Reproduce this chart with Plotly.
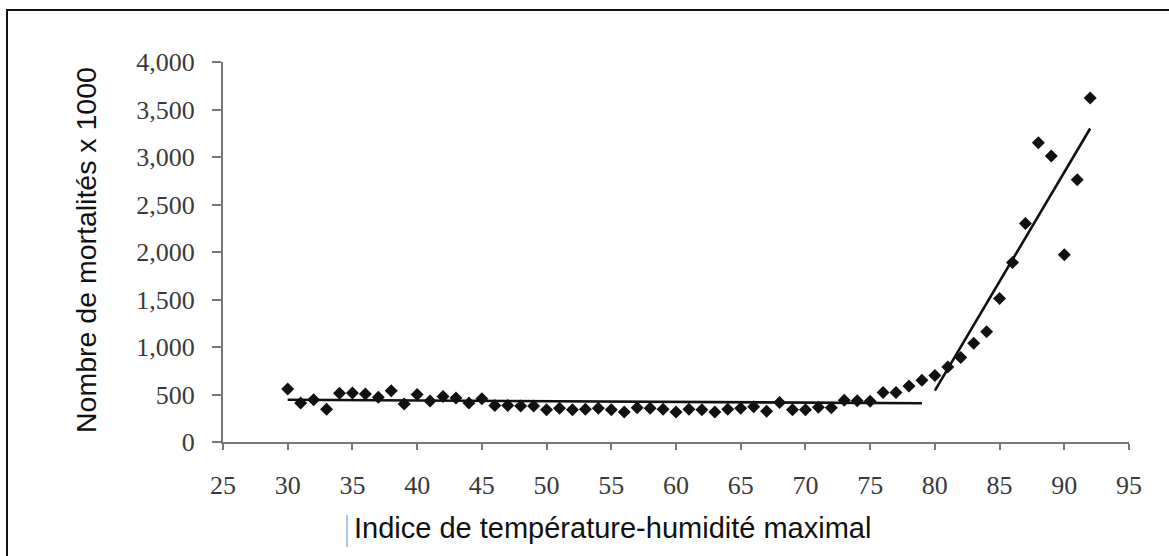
import plotly.graph_objects as go

# Maximum temperature-humidity index and deaths (x 1000)
thi = list(range(30, 93))
deaths = [
    558, 410, 445, 345, 512, 515, 505, 470, 540, 400,   # 30-39
    500, 432, 480, 462, 410, 455, 385, 385, 380, 380,   # 40-49
    340, 355, 340, 345, 355, 340, 315, 360, 355, 345,   # 50-59
    315, 345, 340, 315, 345, 355, 370, 325, 415, 340,   # 60-69
    340, 365, 360, 440, 435, 430, 520, 520, 590, 650,   # 70-79
    700, 790, 890, 1040, 1160, 1510, 1890, 2300, 3150, 3010,  # 80-89
    1970, 2760, 3620,                                   # 90-92
]

# Fitted trend lines (below and above the threshold)
fit_low_x = [30, 79]
fit_low_y = [445, 408]
fit_high_x = [80, 92]
fit_high_y = [540, 3300]

x_ticks = list(range(25, 100, 5))
y_ticks = list(range(0, 4500, 500))
y_tick_text = [f"{v:,}" for v in y_ticks]

W, H = 1169, 556
L, R, T, B = 223, 1129, 62, 442  # plot area in pixels


def px(x):
    return (x - L) / (R - L)


def py(y):
    return (B - y) / (B - T)


fig = go.Figure()

fig.add_trace(go.Scatter(
    x=fit_low_x, y=fit_low_y, mode="lines",
    line=dict(color="#111111", width=2.6), hoverinfo="skip", showlegend=False,
))
fig.add_trace(go.Scatter(
    x=fit_high_x, y=fit_high_y, mode="lines",
    line=dict(color="#111111", width=2.6), hoverinfo="skip", showlegend=False,
))
fig.add_trace(go.Scatter(
    x=thi, y=deaths, mode="markers",
    marker=dict(symbol="diamond", size=10, color="#111111", line=dict(width=0)),
    cliponaxis=False, showlegend=False,
))

axis_common = dict(
    showgrid=False, zeroline=False, showline=True,
    linecolor="#777777", linewidth=2,
    ticks="outside", tickcolor="#777777", tickwidth=2,
    tickfont=dict(family="Liberation Serif, Times New Roman, serif", size=26, color="#3a3a3a"),
)

fig.update_xaxes(
    range=[25, 95], tickvals=x_ticks, ticklen=6, ticklabelstandoff=13,
    **axis_common,
)
fig.update_yaxes(
    range=[0, 4000], tickvals=y_ticks, ticktext=y_tick_text, ticklen=9,
    ticklabelstandoff=12, **axis_common,
)

fig.update_layout(
    width=W, height=H,
    margin=dict(l=L, r=W - R, t=T, b=H - B, pad=0),
    paper_bgcolor="white", plot_bgcolor="white",
    showlegend=False,
    annotations=[
        dict(
            text="Nombre de mortalités x 1000", textangle=-90,
            x=px(86), y=py(250), xref="paper", yref="paper",
            xanchor="center", yanchor="middle", showarrow=False,
            font=dict(family="Liberation Sans Narrow, Arial Narrow, Liberation Sans, Arial, sans-serif",
                      size=28.5, color="#111111"),
        ),
        dict(
            text="Indice de température-humidité maximal",
            x=px(612), y=py(528), xref="paper", yref="paper",
            xanchor="center", yanchor="middle", showarrow=False,
            font=dict(family="Liberation Sans, Arial, sans-serif", size=29, color="#111111"),
        ),
    ],
    shapes=[
        # outer frame
        dict(type="rect", xref="paper", yref="paper",
             x0=px(7), x1=px(1175), y0=py(10), y1=py(562),
             line=dict(color="#111111", width=2), fillcolor="rgba(0,0,0,0)", layer="below"),
        # text cursor before the x-axis title
        dict(type="line", xref="paper", yref="paper",
             x0=px(347), x1=px(347), y0=py(515), y1=py(547),
             line=dict(color="#a9c8e8", width=2)),
    ],
)

fig.write_html("out.html")
